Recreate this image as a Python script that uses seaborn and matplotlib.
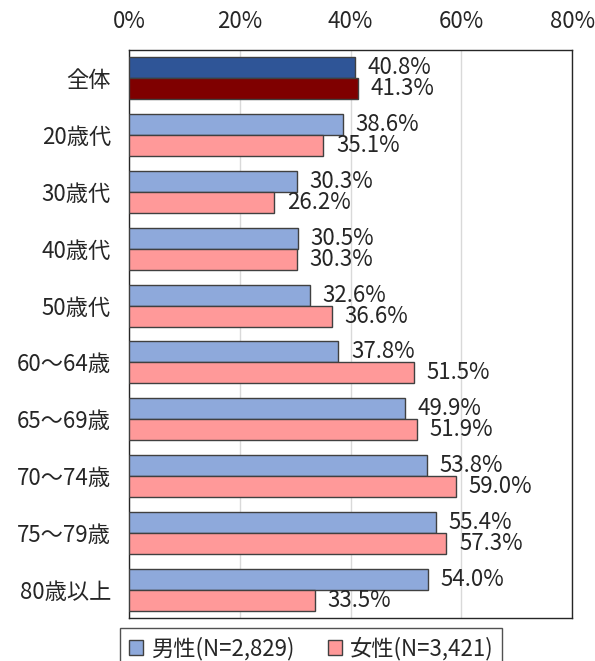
import pandas as pd
import matplotlib.pyplot as plt
import seaborn as sns
from matplotlib.patches import Patch

categories = ['全体', '20歳代', '30歳代', '40歳代', '50歳代', '60～64歳',
              '65～69歳', '70～74歳', '75～79歳', '80歳以上']
male = [40.8, 38.6, 30.3, 30.5, 32.6, 37.8, 49.9, 53.8, 55.4, 54.0]
female = [41.3, 35.1, 26.2, 30.3, 36.6, 51.5, 51.9, 59.0, 57.3, 33.5]
series_names = ['男性(N=2,829)', '女性(N=3,421)']

light_colors = ['#8EA9DB', '#FF9999']
dark_colors = ['#2F5597', '#7F0000']

rows = []
for cat, m, f in zip(categories, male, female):
    rows.append({'区分': cat, '性別': series_names[0], '割合': m})
    rows.append({'区分': cat, '性別': series_names[1], '割合': f})
df = pd.DataFrame(rows)

sns.set_style('white')
plt.rcParams['font.family'] = ['Noto Sans CJK JP', 'DejaVu Sans']

fig = plt.figure(figsize=(5.95, 6.61), dpi=100)
ax = fig.add_axes([0.2168, 0.065, 0.745, 0.8595])

sns.barplot(data=df, x='割合', y='区分', hue='性別', order=categories,
            hue_order=series_names, palette=light_colors, saturation=1,
            orient='h', width=0.74, edgecolor='#404040', linewidth=1.0,
            ax=ax, legend=False, zorder=3)

# 全体 row in dark colours
for cont, dc in zip(ax.containers, dark_colors):
    cont.patches[0].set_facecolor(dc)

# value labels
for cont, vals in zip(ax.containers, [male, female]):
    for bar, v in zip(cont.patches, vals):
        y = bar.get_y() + bar.get_height() / 2
        ax.annotate(f'{v:.1f}%', (bar.get_width(), y), xytext=(9, 0),
                    textcoords='offset points', ha='left', va='center',
                    fontsize=16, color='#262626')

ax.set_xlim(0, 80)
ax.set_xticks([0, 20, 40, 60, 80])
ax.set_xticklabels([f'{t}%' for t in [0, 20, 40, 60, 80]])
ax.xaxis.tick_top()
ax.tick_params(axis='x', length=0, pad=12, labelsize=16, labelcolor='#262626')
ax.tick_params(axis='y', length=0, pad=13, labelsize=16, labelcolor='#262626')
ax.set_xlabel('')
ax.set_ylabel('')
ax.grid(axis='x', color='#D9D9D9', linewidth=1.0, zorder=0)
ax.grid(axis='y', visible=False)
for sp in ax.spines.values():
    sp.set_visible(True)
    sp.set_color('#262626')
    sp.set_linewidth(1.0)

handles = [Patch(facecolor=c, edgecolor='#404040', linewidth=1.0) for c in light_colors]
leg = fig.legend(handles, series_names, loc='upper center',
                 bbox_to_anchor=(311 / 595, 1 - 628 / 661), ncol=2,
                 fontsize=16, frameon=True, fancybox=False, edgecolor='#262626',
                 handlelength=0.65, handleheight=0.65, handletextpad=0.35,
                 columnspacing=1.5, borderpad=0.4, borderaxespad=0)
leg.get_frame().set_linewidth(1.0)
for t in leg.get_texts():
    t.set_color('#262626')

fig.savefig('out.png', dpi=100)
